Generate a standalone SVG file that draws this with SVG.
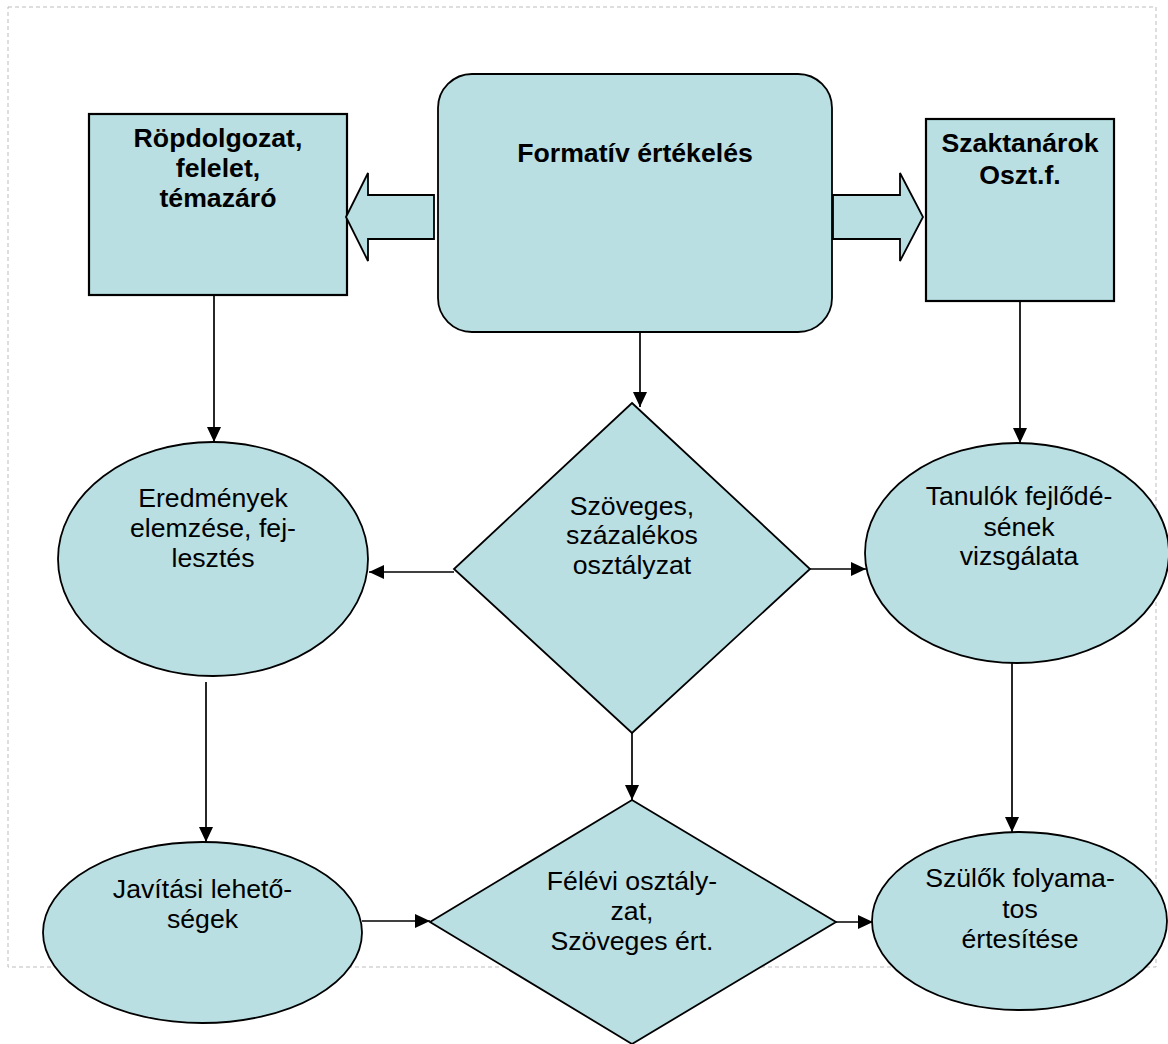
<svg xmlns="http://www.w3.org/2000/svg" width="1168" height="1044" viewBox="0 0 1168 1044">
  <style>
    .shape { fill: #B9DFE3; stroke: #000; stroke-width: 1.8; }
    .box { fill: #B9DFE3; stroke: #000; stroke-width: 2.2; }
    .lbl { font-family: "Liberation Sans", Arial, sans-serif; font-size: 26.67px; fill: #000; text-anchor: middle; }
    .bold { font-weight: bold; }
    .conn { stroke: #000; stroke-width: 1.7; fill: none; marker-end: url(#head); }
  </style>
  <defs>
    <marker id="head" viewBox="0 0 15 14" refX="15" refY="7" markerWidth="15" markerHeight="14" markerUnits="userSpaceOnUse" orient="auto">
      <path d="M0,0 L15,7 L0,14 Z" fill="#000"/>
    </marker>
  </defs>

  <!-- page frame -->
  <rect x="8" y="7" width="1148" height="960" fill="none" stroke="#BDBDBD" stroke-width="1" stroke-dasharray="4 3"/>

  <!-- nodes -->
  <g id="node-ropdolgozat">
    <rect class="box" x="89" y="114" width="258" height="181"/>
    <text class="lbl bold" x="218" y="147">Röpdolgozat,</text>
    <text class="lbl bold" x="218" y="177">felelet,</text>
    <text class="lbl bold" x="218" y="207">témazáró</text>
  </g>

  <g id="node-formativ">
    <rect class="shape" x="438" y="74" width="394" height="258" rx="34" ry="34"/>
    <text class="lbl bold" x="635" y="162">Formatív értékelés</text>
  </g>

  <g id="node-szaktanarok">
    <rect class="box" x="926" y="119" width="188" height="182"/>
    <text class="lbl bold" x="1020" y="152">Szaktanárok</text>
    <text class="lbl bold" x="1020" y="184">Oszt.f.</text>
  </g>

  <g id="node-eredmenyek">
    <ellipse class="shape" cx="213" cy="559" rx="155" ry="117"/>
    <text class="lbl" x="213" y="507">Eredmények</text>
    <text class="lbl" x="213" y="537">elemzése, fej-</text>
    <text class="lbl" x="213" y="567">lesztés</text>
  </g>

  <g id="node-szoveges">
    <polygon class="shape" points="632,403 810,569 632,733 454,569"/>
    <text class="lbl" x="632" y="515">Szöveges,</text>
    <text class="lbl" x="632" y="544">százalékos</text>
    <text class="lbl" x="632" y="574">osztályzat</text>
  </g>

  <g id="node-tanulok">
    <ellipse class="shape" cx="1017" cy="553" rx="152" ry="110"/>
    <text class="lbl" x="1019" y="505">Tanulók fejlődé-</text>
    <text class="lbl" x="1019" y="536">sének</text>
    <text class="lbl" x="1019" y="565">vizsgálata</text>
  </g>

  <g id="node-javitasi">
    <ellipse class="shape" cx="202.5" cy="932.5" rx="159.5" ry="90.5"/>
    <text class="lbl" x="202.5" y="898">Javítási lehető-</text>
    <text class="lbl" x="202.5" y="928">ségek</text>
  </g>

  <g id="node-felevi">
    <polygon class="shape" points="632,800 836,922 632,1044 430,922"/>
    <text class="lbl" x="632" y="890">Félévi osztály-</text>
    <text class="lbl" x="632" y="920">zat,</text>
    <text class="lbl" x="632" y="950">Szöveges ért.</text>
  </g>

  <g id="node-szulok">
    <ellipse class="shape" cx="1019.5" cy="921" rx="147.5" ry="89"/>
    <text class="lbl" x="1020" y="887">Szülők folyama-</text>
    <text class="lbl" x="1020" y="918">tos</text>
    <text class="lbl" x="1020" y="948">értesítése</text>
  </g>

  <!-- connectors -->
  <g id="connectors">
    <polygon class="shape" points="346,217 368,173 368,195 434,195 434,239 368,239 368,261"/>
    <polygon class="shape" points="833,195 900,195 900,173 923,217 900,261 900,239 833,239"/>
    <line class="conn" x1="214" y1="295" x2="214" y2="442"/>
    <line class="conn" x1="640" y1="332" x2="640" y2="407"/>
    <line class="conn" x1="1020" y1="301" x2="1020" y2="443"/>
    <line class="conn" x1="454" y1="572" x2="369" y2="572"/>
    <line class="conn" x1="810" y1="569" x2="866" y2="569"/>
    <line class="conn" x1="206" y1="682" x2="206" y2="842"/>
    <line class="conn" x1="632" y1="733" x2="632" y2="800"/>
    <line class="conn" x1="1012" y1="663" x2="1012" y2="832"/>
    <line class="conn" x1="362" y1="921" x2="430" y2="921"/>
    <line class="conn" x1="836" y1="922" x2="873" y2="922"/>
  </g>
</svg>
